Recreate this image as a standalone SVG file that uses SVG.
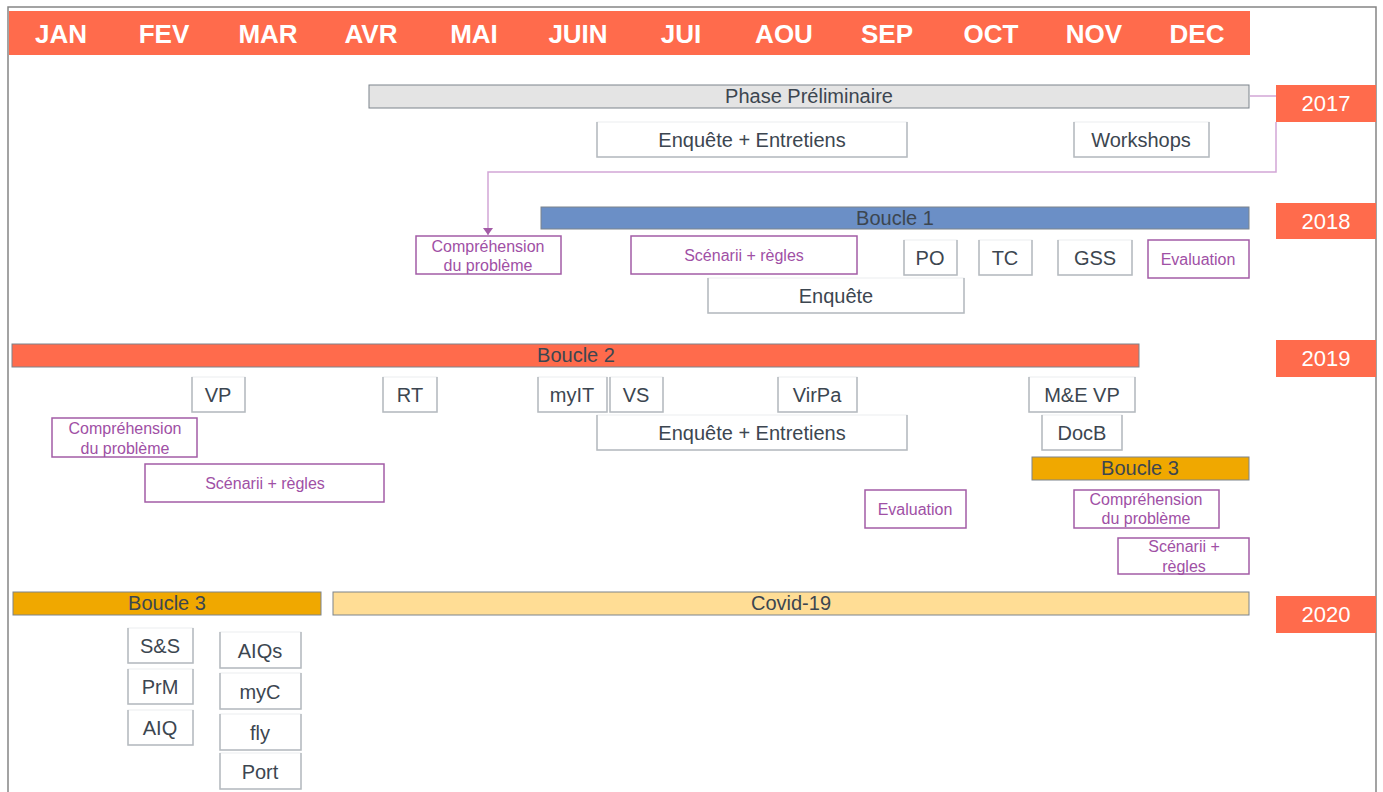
<svg xmlns="http://www.w3.org/2000/svg" width="1383" height="792" viewBox="0 0 1383 792">
<defs>
<style>
.frame{fill:#ffffff;stroke:#858585;stroke-width:1.5}
.hdr{fill:#ff6b4c}
.mon{font-family:"Liberation Sans",Arial,sans-serif;font-size:26px;font-weight:bold;fill:#ffffff;text-anchor:middle}
.yr{fill:#ff6b4c}
.yrt{font-family:"Liberation Sans",Arial,sans-serif;font-size:22px;fill:#ffffff;text-anchor:middle}
.bar{stroke:#7c848c;stroke-width:1}
.bt{font-family:"Liberation Sans",Arial,sans-serif;font-size:20px;fill:#3c4650;text-anchor:middle}
.gb{fill:#ffffff;stroke:#eceef0;stroke-width:1}
.ge{fill:none;stroke:#b4b9be;stroke-width:1.5}
.gt{font-family:"Liberation Sans",Arial,sans-serif;font-size:20px;fill:#3c4650;text-anchor:middle}
.pb{fill:#ffffff;stroke:#a35ca6;stroke-width:1.5}
.pt{font-family:"Liberation Sans",Arial,sans-serif;font-size:16px;fill:#a050a5;text-anchor:middle}
.conn{fill:none;stroke:#d2a6d6;stroke-width:1.5}
</style>
<marker id="arr" markerWidth="8" markerHeight="10" refX="7" refY="5" orient="auto" markerUnits="userSpaceOnUse">
<path d="M0,0 L7,5 L0,10 Z" fill="#a35ca6"/>
</marker>
</defs>
<rect x="0" y="0" width="1383" height="792" fill="#ffffff"/>
<rect class="frame" x="8" y="7" width="1368" height="800"/>

<g id="header">
<rect class="hdr" x="9" y="11" width="1241" height="44"/>
<text class="mon" x="61" y="43">JAN</text>
<text class="mon" x="164" y="43">FEV</text>
<text class="mon" x="268" y="43">MAR</text>
<text class="mon" x="371" y="43">AVR</text>
<text class="mon" x="474" y="43">MAI</text>
<text class="mon" x="578" y="43">JUIN</text>
<text class="mon" x="681" y="43">JUI</text>
<text class="mon" x="784" y="43">AOU</text>
<text class="mon" x="887" y="43">SEP</text>
<text class="mon" x="991" y="43">OCT</text>
<text class="mon" x="1094" y="43">NOV</text>
<text class="mon" x="1197" y="43">DEC</text>
</g>

<g id="connectors">
<path class="conn" d="M1250,96 H1276 M1276,122 V172 H488 V235" marker-end="url(#arr)"/>
</g>

<g id="y2017"><rect class="yr" x="1276" y="85" width="100" height="37"/><text class="yrt" x="1326" y="111">2017</text></g>
<g id="y2018"><rect class="yr" x="1276" y="203" width="100" height="36"/><text class="yrt" x="1326" y="229">2018</text></g>
<g id="y2019"><rect class="yr" x="1276" y="340" width="100" height="37"/><text class="yrt" x="1326" y="366">2019</text></g>
<g id="y2020"><rect class="yr" x="1276" y="596" width="100" height="37"/><text class="yrt" x="1326" y="622">2020</text></g>

<g id="phase"><rect class="bar" x="369" y="85" width="880" height="23" fill="#e4e4e4"/><text class="bt" x="809" y="103">Phase Préliminaire</text></g>
<g id="enq2017"><rect class="gb" x="597" y="122" width="310" height="35"/><path class="ge" d="M597,122 V157 H907 V122"/><text class="gt" x="752" y="147">Enquête + Entretiens</text></g>
<g id="workshops"><rect class="gb" x="1074" y="122" width="135" height="35"/><path class="ge" d="M1074,122 V157 H1209 V122"/><text class="gt" x="1141" y="147">Workshops</text></g>

<g id="boucle1"><rect class="bar" x="541" y="207" width="708" height="22" fill="#6b8fc6"/><text class="bt" x="895" y="225">Boucle 1</text></g>
<g id="comp2018"><rect class="pb" x="416" y="236" width="145" height="38"/><text class="pt" x="488" y="252">Compréhension</text><text class="pt" x="488" y="271">du problème</text></g>
<g id="scen2018"><rect class="pb" x="631" y="236" width="226" height="38"/><text class="pt" x="744" y="261">Scénarii + règles</text></g>
<g id="po"><rect class="gb" x="904" y="240" width="53" height="35"/><path class="ge" d="M904,240 V275 H957 V240"/><text class="gt" x="930" y="265">PO</text></g>
<g id="tc"><rect class="gb" x="979" y="240" width="53" height="35"/><path class="ge" d="M979,240 V275 H1032 V240"/><text class="gt" x="1005" y="265">TC</text></g>
<g id="gss"><rect class="gb" x="1058" y="240" width="74" height="35"/><path class="ge" d="M1058,240 V275 H1132 V240"/><text class="gt" x="1095" y="265">GSS</text></g>
<g id="eval2018"><rect class="pb" x="1148" y="240" width="101" height="38"/><text class="pt" x="1198" y="265">Evaluation</text></g>
<g id="enq2018"><rect class="gb" x="708" y="278" width="256" height="35"/><path class="ge" d="M708,278 V313 H964 V278"/><text class="gt" x="836" y="303">Enquête</text></g>

<g id="boucle2"><rect class="bar" x="12" y="344" width="1127" height="23" fill="#ff6b4c"/><text class="bt" x="576" y="362">Boucle 2</text></g>
<g id="vp"><rect class="gb" x="192" y="377" width="53" height="35"/><path class="ge" d="M192,377 V412 H245 V377"/><text class="gt" x="218" y="402">VP</text></g>
<g id="rt"><rect class="gb" x="383" y="377" width="54" height="35"/><path class="ge" d="M383,377 V412 H437 V377"/><text class="gt" x="410" y="402">RT</text></g>
<g id="myit"><rect class="gb" x="538" y="377" width="69" height="35"/><path class="ge" d="M538,377 V412 H607 V377"/><text class="gt" x="572" y="402">myIT</text></g>
<g id="vs"><rect class="gb" x="610" y="377" width="53" height="35"/><path class="ge" d="M610,377 V412 H663 V377"/><text class="gt" x="636" y="402">VS</text></g>
<g id="virpa"><rect class="gb" x="778" y="377" width="79" height="35"/><path class="ge" d="M778,377 V412 H857 V377"/><text class="gt" x="817" y="402">VirPa</text></g>
<g id="mevp"><rect class="gb" x="1029" y="377" width="106" height="35"/><path class="ge" d="M1029,377 V412 H1135 V377"/><text class="gt" x="1082" y="402">M&amp;E VP</text></g>
<g id="comp2019a"><rect class="pb" x="52" y="418" width="145" height="39"/><text class="pt" x="125" y="434">Compréhension</text><text class="pt" x="125" y="454">du problème</text></g>
<g id="enq2019"><rect class="gb" x="597" y="415" width="310" height="35"/><path class="ge" d="M597,415 V450 H907 V415"/><text class="gt" x="752" y="440">Enquête + Entretiens</text></g>
<g id="docb"><rect class="gb" x="1042" y="415" width="80" height="35"/><path class="ge" d="M1042,415 V450 H1122 V415"/><text class="gt" x="1082" y="440">DocB</text></g>
<g id="scen2019a"><rect class="pb" x="145" y="464" width="239" height="38"/><text class="pt" x="265" y="489">Scénarii + règles</text></g>
<g id="boucle3a"><rect class="bar" x="1032" y="457" width="217" height="23" fill="#f0a800"/><text class="bt" x="1140" y="475">Boucle 3</text></g>
<g id="eval2019"><rect class="pb" x="865" y="490" width="101" height="38"/><text class="pt" x="915" y="515">Evaluation</text></g>
<g id="comp2019b"><rect class="pb" x="1074" y="490" width="145" height="38"/><text class="pt" x="1146" y="505">Compréhension</text><text class="pt" x="1146" y="524">du problème</text></g>
<g id="scen2019b"><rect class="pb" x="1118" y="538" width="131" height="36"/><text class="pt" x="1184" y="552">Scénarii +</text><text class="pt" x="1184" y="572">règles</text></g>

<g id="boucle3b"><rect class="bar" x="13" y="592" width="308" height="23" fill="#f0a800"/><text class="bt" x="167" y="610">Boucle 3</text></g>
<g id="covid"><rect class="bar" x="333" y="592" width="916" height="23" fill="#ffdd95"/><text class="bt" x="791" y="610">Covid-19</text></g>
<g id="ss"><rect class="gb" x="128" y="628" width="65" height="35"/><path class="ge" d="M128,628 V663 H193 V628"/><text class="gt" x="160" y="653">S&amp;S</text></g>
<g id="prm"><rect class="gb" x="128" y="669" width="65" height="35"/><path class="ge" d="M128,669 V704 H193 V669"/><text class="gt" x="160" y="694">PrM</text></g>
<g id="aiq"><rect class="gb" x="128" y="710" width="65" height="35"/><path class="ge" d="M128,710 V745 H193 V710"/><text class="gt" x="160" y="735">AIQ</text></g>
<g id="aiqs"><rect class="gb" x="220" y="632" width="81" height="36"/><path class="ge" d="M220,632 V668 H301 V632"/><text class="gt" x="260" y="658">AIQs</text></g>
<g id="myc"><rect class="gb" x="220" y="673" width="81" height="36"/><path class="ge" d="M220,673 V709 H301 V673"/><text class="gt" x="260" y="699">myC</text></g>
<g id="fly"><rect class="gb" x="220" y="714" width="81" height="36"/><path class="ge" d="M220,714 V750 H301 V714"/><text class="gt" x="260" y="740">fly</text></g>
<g id="port"><rect class="gb" x="220" y="753" width="81" height="36"/><path class="ge" d="M220,753 V789 H301 V753"/><text class="gt" x="260" y="779">Port</text></g>
</svg>
